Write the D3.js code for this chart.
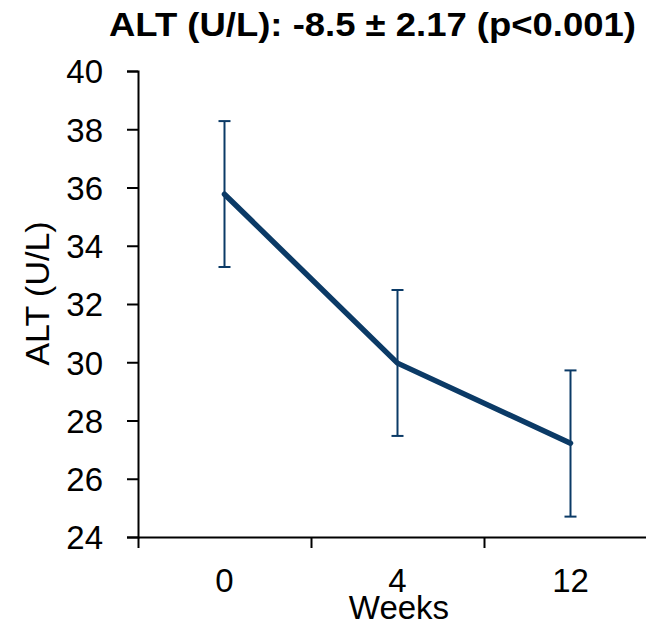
<!DOCTYPE html>
<html>
<head>
<meta charset="utf-8">
<script src="https://cdn.jsdelivr.net/npm/d3@7"></script>
<style>
  body { margin: 0; background: #fff; }
  text { font-family: Arial, "Liberation Sans", sans-serif; fill: #000; }
  .axis path, .axis line { stroke: #000; stroke-width: 2px; }
</style>
</head>
<body>
<div id="chart"></div>
<script>
// chart values
const weeks = ['0', '4', '12'];
const altMean = [35.77, 29.97, 27.22];
const altLower = [33.27, 27.47, 24.70];
const altUpper = [38.28, 32.48, 29.72];
const yTicks = [24, 26, 28, 30, 32, 34, 36, 38, 40];
const titleText = 'ALT (U/L): -8.5 \u00b1 2.17 (p<0.001)';

class LineChart {
  constructor(_config) {
    this.config = {
      parentElement: _config.parentElement,
      containerWidth: _config.containerWidth || 646,
      containerHeight: _config.containerHeight || 627,
      margin: _config.margin || { top: 71, right: 0, bottom: 90, left: 138 },
      lineColor: '#0b3a66'
    };
    this.initVis();
  }

  initVis() {
    let vis = this;

    vis.width = 519;
    vis.height = vis.config.containerHeight - vis.config.margin.top - vis.config.margin.bottom;

    vis.svg = d3.select(vis.config.parentElement)
      .append('svg')
      .attr('width', vis.config.containerWidth)
      .attr('height', vis.config.containerHeight)
      .style('display', 'block');

    vis.chart = vis.svg.append('g')
      .attr('transform', `translate(${vis.config.margin.left},${vis.config.margin.top})`);

    vis.xScale = d3.scaleBand().domain(weeks).range([0, vis.width]);
    vis.yScale = d3.scaleLinear().domain([24, 40]).range([vis.height, 0]);

    vis.renderVis();
  }

  renderVis() {
    let vis = this;
    const x = vis.xScale, y = vis.yScale;
    const cx = (d) => x(d) + x.bandwidth() / 2;

    // y axis
    const yAxis = vis.chart.append('g')
      .attr('class', 'axis')
      .call(d3.axisLeft(y).tickValues(yTicks).tickSize(11).tickPadding(24));
    yAxis.selectAll('text').style('font-size', '33px').attr('dy', '0.36em');

    // x axis: ticks on band edges, labels in band centres
    vis.chart.append('g')
      .attr('class', 'axis')
      .attr('transform', `translate(0,${vis.height})`)
      .call(d3.axisBottom(d3.scaleLinear().domain([0, 3]).range([0, vis.width]))
        .tickValues([0, 1, 2, 3]).tickSize(11).tickSizeOuter(0).tickFormat(''));

    vis.chart.selectAll('.x-label')
      .data(weeks)
      .join('text')
      .attr('class', 'x-label')
      .attr('x', cx)
      .attr('y', vis.height + 55)
      .attr('text-anchor', 'middle')
      .style('font-size', '33px')
      .text((d) => d);

    // error bars
    const rows = weeks.map((w, i) => ({ w, m: altMean[i], lo: altLower[i], hi: altUpper[i] }));
    const bars = vis.chart.selectAll('.err')
      .data(rows)
      .join('g')
      .attr('class', 'err')
      .attr('stroke', vis.config.lineColor)
      .attr('stroke-width', 2);
    bars.append('line')
      .attr('x1', (d) => cx(d.w)).attr('x2', (d) => cx(d.w))
      .attr('y1', (d) => y(d.lo)).attr('y2', (d) => y(d.hi));
    bars.append('line')
      .attr('x1', (d) => cx(d.w) - 6).attr('x2', (d) => cx(d.w) + 6)
      .attr('y1', (d) => y(d.hi)).attr('y2', (d) => y(d.hi));
    bars.append('line')
      .attr('x1', (d) => cx(d.w) - 6).attr('x2', (d) => cx(d.w) + 6)
      .attr('y1', (d) => y(d.lo)).attr('y2', (d) => y(d.lo));

    // mean line
    vis.chart.append('path')
      .datum(rows)
      .attr('fill', 'none')
      .attr('stroke', vis.config.lineColor)
      .attr('stroke-width', 5.5)
      .attr('stroke-linejoin', 'round')
      .attr('stroke-linecap', 'round')
      .attr('d', d3.line().x((d) => cx(d.w)).y((d) => y(d.m)));

    // axis titles
    vis.svg.append('text')
      .attr('transform', 'translate(48.5,293.5) rotate(-90)')
      .attr('text-anchor', 'middle')
      .style('font-size', '34px')
      .text('ALT (U/L)');

    vis.svg.append('text')
      .attr('x', 399)
      .attr('y', 619)
      .attr('text-anchor', 'middle')
      .style('font-size', '33px')
      .text('Weeks');

    vis.svg.append('text')
      .attr('x', 372.5)
      .attr('y', 36)
      .attr('text-anchor', 'middle')
      .attr('textLength', 527)
      .attr('lengthAdjust', 'spacingAndGlyphs')
      .style('font-size', '34px')
      .style('font-weight', 'bold')
      .text(titleText);
  }
}

new LineChart({ parentElement: '#chart' });
</script>
</body>
</html>
